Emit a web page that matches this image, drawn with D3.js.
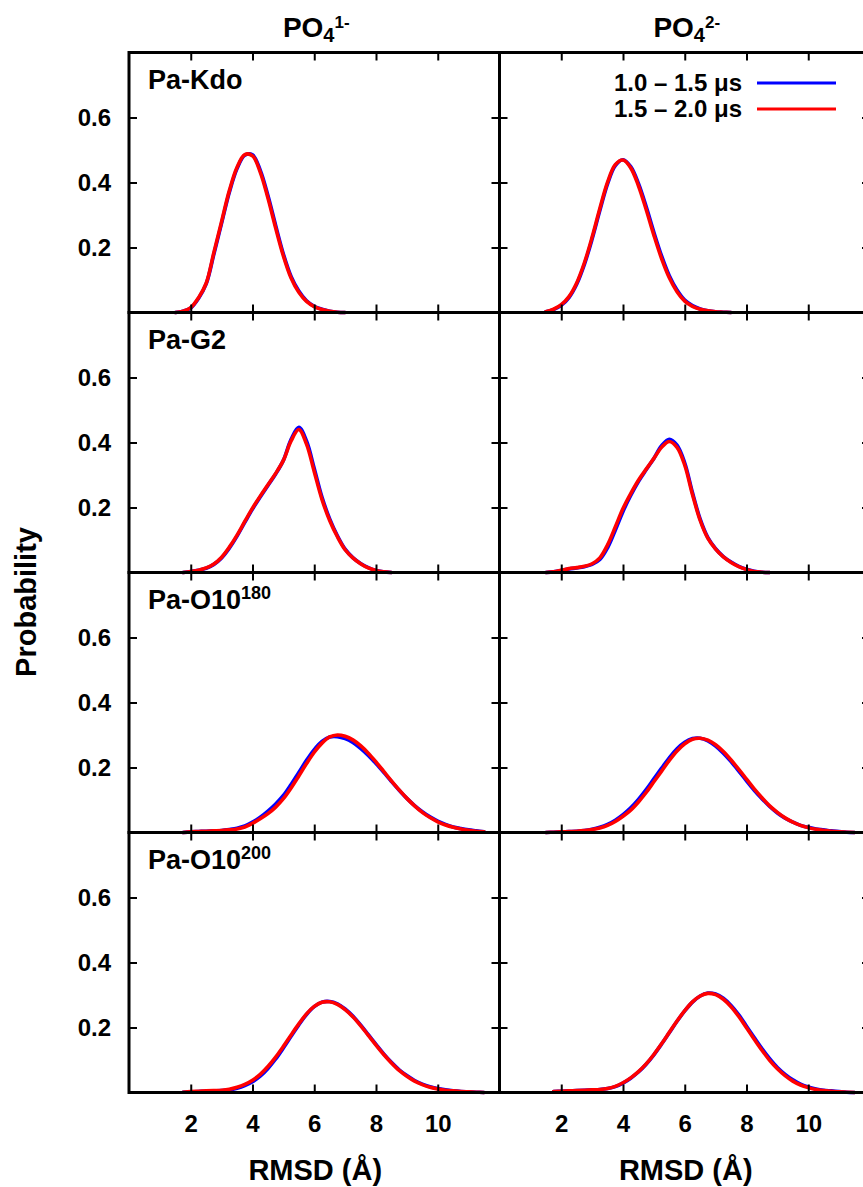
<!DOCTYPE html>
<html>
<head>
<meta charset="utf-8">
<script src="https://cdn.jsdelivr.net/npm/d3@7"></script>
<style>
  html, body { margin: 0; padding: 0; background: #ffffff; }
  svg { display: block; }
  text { font-family: "Liberation Sans", Arial, Helvetica, sans-serif; font-weight: bold; fill: #000; }
</style>
</head>
<body>
<svg id="chart" width="863" height="1187"></svg>
<script>
// ---------------- DATA ----------------
const columnTitles = [{ base: "PO", sub: "4", sup: "1-" }, { base: "PO", sub: "4", sup: "2-" }];
const panelNames = ["Pa-Kdo", "Pa-G2", "Pa-O10", "Pa-O10"];
const panelSups = ["", "", "180", "200"];
const legendLabels = ["1.0 \u2013 1.5 \u03bcs", "1.5 \u2013 2.0 \u03bcs"];
const xTickValues = [2, 4, 6, 8, 10];
const yTickValues = [0.2, 0.4, 0.6];
const xDomain = [0, 12];
const yDomain = [0, 0.8];
const xLabel = "RMSD (\u00c5)";
const yLabel = "Probability";

// RMSD grid (Å)
const rmsd = [1.5, 1.75, 2.0, 2.25, 2.5, 2.75, 3.0, 3.25, 3.5, 3.75, 4.0, 4.25, 4.5, 4.75, 5.0, 5.25,
  5.5, 5.75, 6.0, 6.25, 6.5, 6.75, 7.0, 7.25, 7.5, 7.75, 8.0, 8.25, 8.5, 8.75, 9.0, 9.25, 9.5, 9.75,
  10.0, 10.25, 10.5, 10.75, 11.0, 11.25, 11.5];
const N = null;

// PO4 1-
const kdo1Blue = [0, .004, .014, .043, .088, .18, .275, .37, .443, .484, .485, .438, .36, .268, .18, .111, .066, .036, .019, .01, .004, .001, 0, N, N, N, N, N, N, N, N, N, N, N, N, N, N, N, N, N, N];
const kdo1Red  = [0, .004, .015, .045, .09, .185, .28, .375, .447, .486, .482, .432, .352, .26, .174, .106, .062, .034, .018, .009, .004, .001, 0, N, N, N, N, N, N, N, N, N, N, N, N, N, N, N, N, N, N];
const g21Blue  = [N, 0, .003, .007, .013, .025, .045, .075, .112, .154, .195, .232, .268, .303, .345, .41, .447, .405, .32, .232, .165, .113, .072, .046, .028, .015, .006, .002, 0, N, N, N, N, N, N, N, N, N, N, N, N];
const g21Red   = [N, 0, .003, .007, .014, .026, .047, .078, .115, .157, .198, .235, .27, .305, .345, .405, .44, .395, .31, .225, .16, .11, .07, .045, .027, .014, .006, .002, 0, N, N, N, N, N, N, N, N, N, N, N, N];
const o180_1Blue = [N, 0, .002, .003, .004, .005, .006, .009, .013, .02, .032, .047, .066, .088, .114, .148, .185, .222, .255, .28, .294, .295, .289, .277, .259, .237, .212, .185, .157, .13, .105, .083, .064, .048, .035, .025, .017, .012, .008, .005, .002];
const o180_1Red  = [N, 0, .002, .003, .004, .005, .006, .008, .011, .017, .028, .042, .058, .078, .104, .137, .174, .212, .247, .275, .294, .30, .296, .285, .267, .244, .217, .188, .159, .131, .105, .082, .062, .046, .033, .023, .016, .011, .007, .004, .002];
const o200_1Blue = [N, .001, .002, .003, .004, .005, .006, .008, .013, .021, .033, .05, .074, .103, .137, .173, .208, .24, .264, .278, .28, .273, .257, .235, .208, .178, .148, .119, .093, .07, .052, .037, .026, .018, .012, .008, .005, .003, .002, .001, 0];
const o200_1Red  = [N, .001, .003, .004, .005, .006, .007, .01, .016, .025, .038, .056, .08, .109, .142, .177, .211, .242, .265, .278, .279, .271, .255, .233, .206, .176, .146, .117, .091, .068, .05, .035, .024, .016, .011, .007, .005, .003, .002, .001, 0];

// PO4 2-
const kdo2Blue = [.002, .009, .022, .046, .087, .148, .226, .314, .396, .452, .47, .449, .397, .326, .247, .174, .113, .069, .038, .021, .011, .005, .002, .001, 0, N, N, N, N, N, N, N, N, N, N, N, N, N, N, N, N];
const kdo2Red  = [.002, .01, .024, .049, .091, .153, .232, .32, .401, .455, .469, .445, .39, .317, .238, .166, .107, .064, .035, .019, .01, .005, .002, .001, 0, N, N, N, N, N, N, N, N, N, N, N, N, N, N, N, N];
const g22Blue  = [0, .002, .006, .011, .014, .018, .025, .04, .076, .13, .188, .237, .28, .316, .351, .39, .41, .392, .337, .246, .164, .107, .073, .049, .032, .019, .01, .004, .001, 0, N, N, N, N, N, N, N, N, N, N, N];
const g22Red   = [0, .002, .007, .012, .015, .019, .027, .045, .085, .14, .197, .243, .284, .318, .351, .385, .403, .385, .33, .24, .16, .105, .072, .048, .031, .018, .009, .003, .001, 0, N, N, N, N, N, N, N, N, N, N, N];
const o180_2Blue = [0, .001, .002, .003, .004, .006, .01, .016, .025, .038, .055, .076, .102, .132, .165, .198, .23, .258, .278, .289, .29, .282, .266, .244, .218, .189, .159, .13, .104, .08, .06, .044, .032, .022, .016, .011, .008, .005, .003, .001, 0];
const o180_2Red  = [0, .001, .002, .003, .004, .006, .009, .014, .022, .034, .05, .069, .094, .123, .156, .189, .222, .251, .273, .287, .29, .284, .27, .249, .223, .194, .164, .134, .107, .082, .062, .045, .032, .022, .015, .01, .007, .004, .002, .001, 0];
const o200_2Blue = [N, .003, .004, .005, .006, .007, .008, .009, .012, .018, .029, .044, .063, .087, .116, .149, .184, .219, .251, .278, .297, .306, .303, .29, .268, .239, .204, .169, .135, .104, .077, .056, .039, .026, .017, .011, .007, .005, .003, .001, 0];
const o200_2Red  = [N, .003, .004, .005, .006, .007, .008, .009, .012, .019, .03, .045, .064, .088, .117, .15, .185, .22, .252, .279, .297, .305, .301, .287, .264, .234, .199, .164, .13, .099, .073, .052, .035, .023, .015, .009, .006, .004, .002, .001, 0];

const seriesColors = ["#0000ff", "#ff0000"];

// panels[row][col] = [blue, red]
const panels = [
  [[kdo1Blue, kdo1Red], [kdo2Blue, kdo2Red]],
  [[g21Blue, g21Red], [g22Blue, g22Red]],
  [[o180_1Blue, o180_1Red], [o180_2Blue, o180_2Red]],
  [[o200_1Blue, o200_1Red], [o200_2Blue, o200_2Red]]
];

// ---------------- LAYOUT ----------------
const left0 = 129, colW = 370.5, top0 = 52.5, rowH = 260;
const svg = d3.select("#chart");
svg.append("rect").attr("width", 863).attr("height", 1187).attr("fill", "#fff");

panels.forEach((row, r) => {
  row.forEach((pair, c) => {
    const x0 = left0 + c * colW;
    const y0 = top0 + r * rowH;
    const x = d3.scaleLinear().domain(xDomain).range([x0, x0 + colW]);
    const y = d3.scaleLinear().domain(yDomain).range([y0 + rowH, y0]);
    const g = svg.append("g");

    // curves
    const line = d3.line()
      .defined(d => d[1] != null)
      .x(d => x(d[0]))
      .y(d => Math.min(y(d[1]), y0 + rowH))
      .curve(d3.curveCatmullRom.alpha(0.5));
    pair.forEach((vals, si) => {
      const pts = rmsd.map((xv, i) => [xv, vals[i]]);
      g.append("path")
        .attr("d", line(pts))
        .attr("fill", "none")
        .attr("stroke", seriesColors[si])
        .attr("stroke-width", 3.6)
        .attr("stroke-linejoin", "round")
        .attr("stroke-linecap", "round");
    });

    const styleAxis = sel => {
      sel.select(".domain").remove();
      sel.selectAll(".tick line").attr("stroke", "#000").attr("stroke-width", 2);
      sel.selectAll(".tick text")
        .attr("font-size", 24)
        .attr("font-family", "'Liberation Sans', Arial, sans-serif")
        .attr("font-weight", "bold")
        .attr("fill", "#000");
    };

    g.append("g").attr("transform", `translate(0,${y0 + rowH})`)
      .call(d3.axisBottom(x).tickValues(xTickValues).tickSize(-8).tickPadding(22)
        .tickFormat(r === 3 ? d3.format("d") : () => ""))
      .call(styleAxis);
    g.append("g").attr("transform", `translate(0,${y0})`)
      .call(d3.axisTop(x).tickValues(xTickValues).tickSize(-8).tickFormat(() => ""))
      .call(styleAxis);
    g.append("g").attr("transform", `translate(${x0},0)`)
      .call(d3.axisLeft(y).tickValues(yTickValues).tickSize(-8).tickPadding(18)
        .tickFormat(c === 0 ? d3.format(".1f") : () => ""))
      .call(styleAxis);
    g.append("g").attr("transform", `translate(${x0 + colW},0)`)
      .call(d3.axisRight(y).tickValues(yTickValues).tickSize(-8).tickFormat(() => ""))
      .call(styleAxis);

    // frame
    g.append("rect")
      .attr("x", x0).attr("y", y0).attr("width", colW).attr("height", rowH)
      .attr("fill", "none").attr("stroke", "#000").attr("stroke-width", 3);

    // panel label (left column only)
    if (c === 0) {
      const t = g.append("text").attr("x", x0 + 19).attr("y", y0 + 36).attr("font-size", 27);
      t.append("tspan").text(panelNames[r]);
      if (panelSups[r]) {
        t.append("tspan").attr("font-size", 18).attr("dy", -10).text(panelSups[r]);
      }
    }

    // x axis label
    if (r === 3) {
      svg.append("text").attr("x", x0 + colW / 2 + 1).attr("y", 1180)
        .attr("text-anchor", "middle").attr("font-size", 29).text(xLabel);
    }
  });
});

// column titles
columnTitles.forEach((ct, c) => {
  const cx = left0 + c * colW + colW / 2 + 2;
  const t = svg.append("text").attr("x", cx).attr("y", 37).attr("text-anchor", "middle").attr("font-size", 28);
  t.append("tspan").text(ct.base);
  t.append("tspan").attr("font-size", 20).attr("dy", 5).text(ct.sub);
  t.append("tspan").attr("font-size", 17).attr("dy", -14).text(ct.sup);
});

// y axis label
svg.append("text")
  .attr("transform", "translate(36,602) rotate(-90)")
  .attr("text-anchor", "middle").attr("font-size", 29).text(yLabel);

// legend
const legendY = [83, 109];
legendLabels.forEach((lab, i) => {
  svg.append("text").attr("x", 742).attr("y", legendY[i] + 8)
    .attr("text-anchor", "end").attr("font-size", 24).text(lab);
  svg.append("line").attr("x1", 757).attr("x2", 836)
    .attr("y1", legendY[i]).attr("y2", legendY[i])
    .attr("stroke", seriesColors[i]).attr("stroke-width", 3);
});
</script>
</body>
</html>
